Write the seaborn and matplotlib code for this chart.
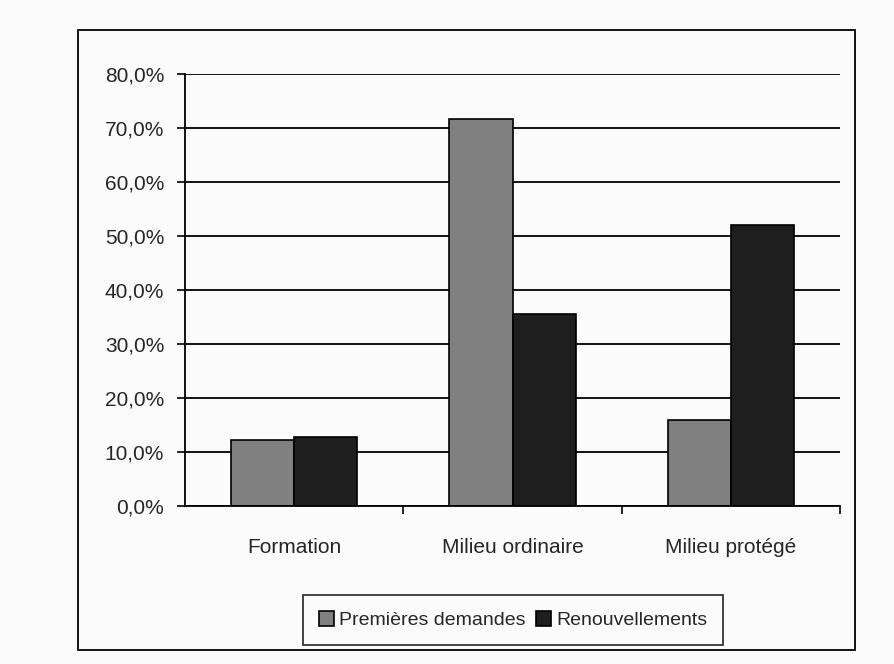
import numpy as np
import pandas as pd
import seaborn as sns
import matplotlib.pyplot as plt
from matplotlib.patches import Rectangle
from matplotlib.ticker import FuncFormatter

# données
categories = ["Formation", "Milieu ordinaire", "Milieu protégé"]
premieres = [12.2, 71.7, 15.9]
renouvellements = [12.8, 35.6, 52.0]
series = ["Premières demandes", "Renouvellements"]

df = pd.DataFrame({
    "cat": categories * 2,
    "val": premieres + renouvellements,
    "serie": [series[0]] * 3 + [series[1]] * 3,
})

sns.set_style("white")
plt.rcParams['font.family'] = ['Liberation Sans Narrow', 'Liberation Sans', 'DejaVu Sans']

fig = plt.figure(figsize=(8.94, 6.64), dpi=100)
fig.patch.set_facecolor("#fbfbfb")
ax = fig.add_axes([185 / 894, 1 - 506 / 664, 655 / 894, 432 / 664])
ax.set_facecolor("#fbfbfb")

sns.barplot(data=df, x="cat", y="val", hue="serie", order=categories,
            palette=["#808080", "#1e1e1e"], width=0.58,
            edgecolor="black", linewidth=1.2, ax=ax, legend=True)

ax.set_xlim(-0.5, 2.5)
ax.set_ylim(0, 80)
ax.set_yticks(np.arange(0, 81, 10))
ax.yaxis.set_major_formatter(FuncFormatter(lambda v, p: f"{v:.1f}%".replace(".", ",")))
ax.yaxis.grid(True, color="black", linewidth=1.3)
ax.set_axisbelow(True)
ax.set_xlabel("")
ax.set_ylabel("")

for s in ["top", "right"]:
    ax.spines[s].set_visible(False)
for s in ["left", "bottom"]:
    ax.spines[s].set_color("black")
    ax.spines[s].set_linewidth(1.3)

ax.tick_params(axis="y", direction="out", length=6, width=1.2, color="black",
               labelsize=15, pad=9, left=True)
ax.tick_params(axis="x", which="major", length=0, labelsize=15, pad=23)
ax.set_xticks([0.5, 1.5, 2.5], minor=True)
ax.tick_params(axis="x", which="minor", direction="out", length=6, width=1.2,
               color="black", bottom=True)

# légende en bas
handles, labels = ax.get_legend_handles_labels()
ax.legend_.remove()
leg = fig.legend(handles, labels, loc="center", bbox_to_anchor=(513 / 894, 1 - 620 / 664),
                 ncol=2, frameon=True, fancybox=False, fontsize=14,
                 handlelength=0.8, handleheight=0.8, handletextpad=0.25,
                 columnspacing=0.5, borderpad=0.8, borderaxespad=0)
leg.get_frame().set_edgecolor("black")
leg.get_frame().set_linewidth(1.3)
leg.get_frame().set_facecolor("#fbfbfb")

# cadre extérieur
fig.patches.append(Rectangle((78 / 894, 1 - 650 / 664), 777 / 894, 620 / 664,
                             transform=fig.transFigure, fill=False,
                             edgecolor="black", linewidth=1.3))

plt.savefig("out.png", dpi=100, facecolor=fig.get_facecolor())
